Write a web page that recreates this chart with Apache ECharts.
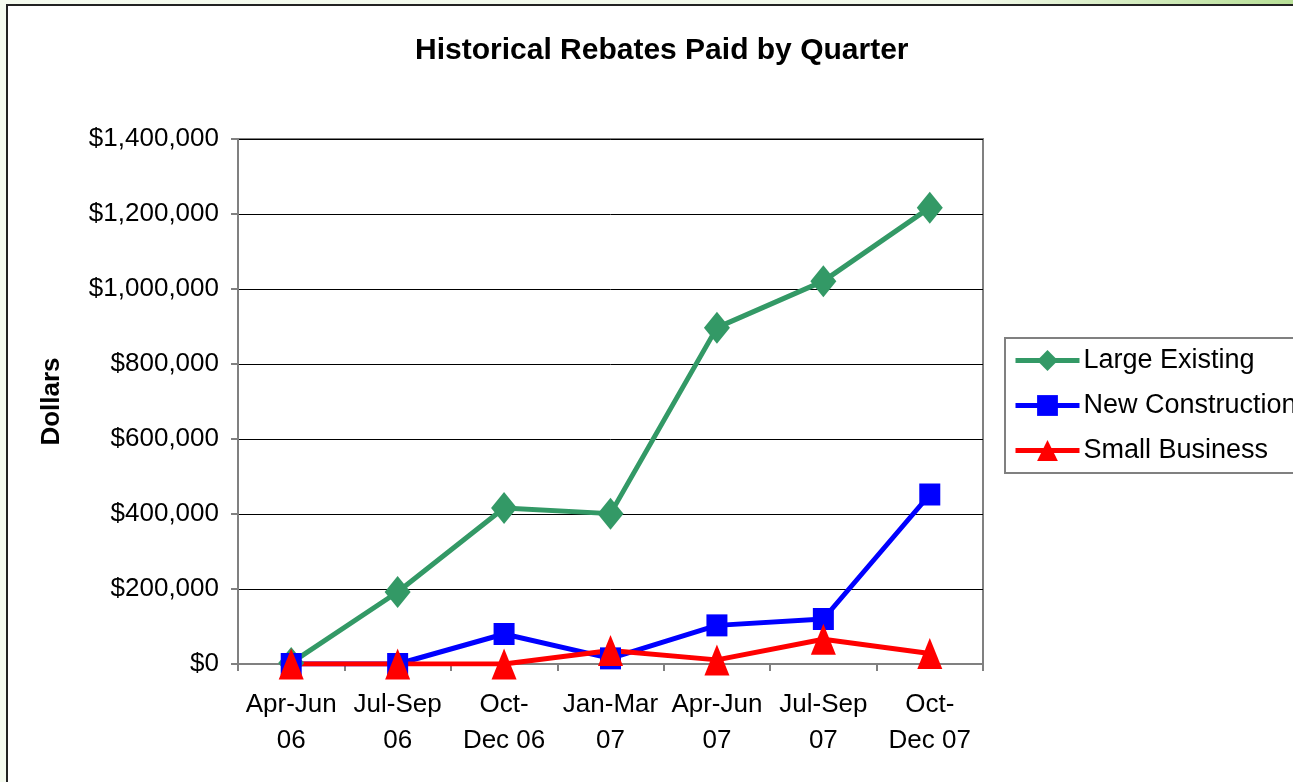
<!DOCTYPE html>
<html>
<head>
<meta charset="utf-8">
<script src="https://cdn.jsdelivr.net/npm/echarts@6/dist/echarts.min.js"></script>
<style>
  html, body { margin: 0; padding: 0; }
  body {
    width: 1293px; height: 782px; overflow: hidden; position: relative;
    background: linear-gradient(90deg, #f5fbef 0%, #f2f9ea 75%, #b7df96 100%);
  }
  #frame {
    position: absolute; left: 6px; top: 4px; width: 1300px; height: 800px;
    background: #fff; border: 2px solid #222; box-sizing: border-box;
  }
  #Echart { position: absolute; left: 0; top: 0; width: 1293px; height: 782px; }
</style>
</head>
<body>
<div id="frame"></div>
<div id="Echart"></div>
<script>
// quarters on the x axis
var quarters = ['Apr-Jun\n06', 'Jul-Sep\n06', 'Oct-\nDec 06', 'Jan-Mar\n07', 'Apr-Jun\n07', 'Jul-Sep\n07', 'Oct-\nDec 07'];
// rebates paid, dollars
var largeExisting = [3000, 192000, 416000, 401000, 897000, 1021000, 1217000];
var newConstruction = [0, 0, 80000, 15000, 103000, 120000, 452000];
var smallBusiness = [0, 0, 0, 36000, 11000, 66000, 28000];
var yTicks = [0, 1400000, 200000]; // min, max, step

var font = 'Liberation Sans, Arial, sans-serif';

function money(v) {
  return '$' + v.toString().replace(/\B(?=(\d{3})+(?!\d))/g, ',');
}

var myChart = echarts.init(document.getElementById('Echart'));
var option = {
  backgroundColor: 'transparent',
  animation: false,
  textStyle: { fontFamily: font },
  title: {
    text: 'Historical Rebates Paid by Quarter',
    left: 410, top: 31,
    textStyle: { fontSize: 30, fontWeight: 'bold', color: '#000', fontFamily: font }
  },
  legend: {
    orient: 'vertical',
    left: 1005, top: 338,
    padding: [9, 60, 9, 8],
    itemGap: 18,
    itemWidth: 64, itemHeight: 26,
    borderColor: '#808080', borderWidth: 2,
    backgroundColor: '#fff',
    lineStyle: { width: 5 },
    textStyle: { fontSize: 27, color: '#000', fontFamily: font, padding: [0, 0, 0, -1] },
    data: ['Large Existing', 'New Construction', 'Small Business']
  },
  grid: {
    left: 238, right: 310, top: 139, bottom: 118,
    show: true, borderColor: '#808080', borderWidth: 2, backgroundColor: '#fff'
  },
  xAxis: {
    type: 'category',
    data: quarters,
    boundaryGap: true,
    axisLine: { lineStyle: { color: '#808080', width: 2 } },
    axisTick: { show: true, inside: false, length: 7, lineStyle: { color: '#808080', width: 2 } },
    axisLabel: {
      interval: 0, hideOverlap: false,
      fontSize: 26, color: '#000', lineHeight: 36, margin: 23, fontFamily: font
    }
  },
  yAxis: {
    type: 'value',
    min: yTicks[0], max: yTicks[1], interval: yTicks[2],
    name: 'Dollars',
    nameLocation: 'middle',
    nameGap: 173,
    nameRotate: 90,
    nameTextStyle: { fontSize: 26, fontWeight: 'bold', color: '#000', fontFamily: font },
    axisLine: { show: true, lineStyle: { color: '#808080', width: 2 } },
    axisTick: { show: true, length: 7, lineStyle: { color: '#808080', width: 2 } },
    splitLine: { lineStyle: { color: '#000', width: 1 } },
    axisLabel: { fontSize: 26, color: '#000', margin: 19, formatter: money, fontFamily: font }
  },
  series: [
    {
      name: 'Large Existing', type: 'line', data: largeExisting,
      symbol: 'diamond', symbolSize: [26, 32],
      itemStyle: { color: '#339966' },
      lineStyle: { color: '#339966', width: 5 }
    },
    {
      name: 'New Construction', type: 'line', data: newConstruction,
      symbol: 'rect', symbolSize: [21, 22],
      itemStyle: { color: '#0000ff' },
      lineStyle: { color: '#0000ff', width: 5 }
    },
    {
      name: 'Small Business', type: 'line', data: smallBusiness,
      symbol: 'triangle', symbolSize: [25, 31],
      itemStyle: { color: '#ff0000' },
      lineStyle: { color: '#ff0000', width: 5 }
    }
  ]
};
myChart.setOption(option);
</script>
</body>
</html>
